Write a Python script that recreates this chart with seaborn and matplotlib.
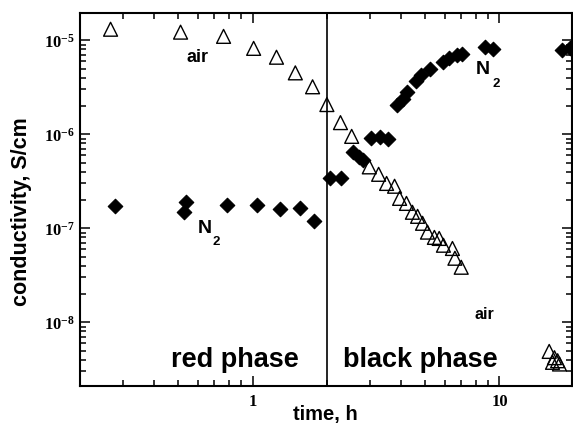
import numpy as np
import pandas as pd
import matplotlib
matplotlib.use("Agg")
import matplotlib.pyplot as plt
import seaborn as sns
from matplotlib.ticker import LogLocator, LogFormatterSciNotation, NullFormatter, FuncFormatter

# ---- data ----
air_time = [0.266, 0.511, 0.763, 1.01, 1.25, 1.49, 1.75, 2.0, 2.27, 2.52, 2.97, 3.24,
            3.49, 3.76, 3.94, 4.2, 4.44, 4.66, 4.88, 5.11, 5.45, 5.7, 5.93, 6.45, 6.6, 7.0,
            15.9, 16.7, 17.2, 16.4, 17.5]
air_cond = [1.31e-5, 1.22e-5, 1.10e-5, 8.2e-6, 6.6e-6, 4.5e-6, 3.2e-6, 2.07e-6, 1.33e-6,
            9.5e-7, 4.5e-7, 3.75e-7, 3.0e-7, 2.8e-7, 2.08e-7, 1.84e-7, 1.48e-7, 1.34e-7,
            1.13e-7, 9.1e-8, 8.0e-8, 7.8e-8, 6.6e-8, 6.1e-8, 4.8e-8, 3.85e-8,
            4.9e-9, 4.2e-9, 3.9e-9, 3.75e-9, 3.6e-9]

n2_time = [0.276, 0.540, 0.530, 0.785, 1.04, 1.29, 1.55, 1.78,
           2.05, 2.29, 2.54, 2.69, 2.79, 3.03, 3.27, 3.52, 3.83, 4.05, 4.24,
           4.61, 4.83, 5.21, 5.88, 6.27, 6.70, 7.08, 8.7, 9.4, 18.0, 19.3]
n2_cond = [1.71e-7, 1.89e-7, 1.48e-7, 1.76e-7, 1.76e-7, 1.59e-7, 1.63e-7, 1.19e-7,
           3.4e-7, 3.4e-7, 6.4e-7, 5.8e-7, 5.3e-7, 9.1e-7, 9.3e-7, 8.8e-7, 2.05e-6, 2.4e-6,
           2.8e-6, 3.7e-6, 4.3e-6, 5.0e-6, 5.8e-6, 6.4e-6, 6.9e-6, 7.2e-6, 8.4e-6, 8.0e-6,
           7.8e-6, 8.2e-6]

phase_boundary = 2.0

sns.set_style("ticks")
plt.rcParams["font.family"] = ["Liberation Sans", "DejaVu Sans"]
plt.rcParams["mathtext.default"] = "regular"
plt.rcParams["text.color"] = "black"
plt.rcParams["axes.labelcolor"] = "black"
plt.rcParams["xtick.color"] = "black"
plt.rcParams["ytick.color"] = "black"

fig = plt.figure(figsize=(5.73, 4.26), dpi=100)
ax = fig.add_axes([0.1396, 0.0939, 0.858, 0.8756])

air_df = pd.DataFrame({"time": air_time, "cond": air_cond})
n2_df = pd.DataFrame({"time": n2_time, "cond": n2_cond})

sns.scatterplot(data=n2_df, x="time", y="cond", marker="D", s=55, color="black",
                edgecolor="black", linewidth=0.8, ax=ax, zorder=3)
sns.scatterplot(data=air_df, x="time", y="cond", marker="^", s=100, facecolor="none",
                edgecolor="black", linewidth=1.0, ax=ax, zorder=4)
for coll in ax.collections[-1:]:
    coll.set_facecolor("none")
    coll.set_edgecolor("black")

ax.axvline(phase_boundary, color="black", lw=1.2, zorder=2)

ax.set_xscale("log")
ax.set_yscale("log")
ax.set_xlim(0.2, 19.6)
ax.set_ylim(2.1e-9, 1.95e-5)

ax.xaxis.set_major_locator(LogLocator(base=10, numticks=10))
ax.yaxis.set_major_locator(LogLocator(base=10, numticks=10))
ax.xaxis.set_minor_locator(LogLocator(base=10, subs=np.arange(2, 10), numticks=20))
ax.yaxis.set_minor_locator(LogLocator(base=10, subs=np.arange(2, 10), numticks=20))
ax.xaxis.set_major_formatter(FuncFormatter(lambda v, p: f"{v:g}"))
ax.yaxis.set_major_formatter(LogFormatterSciNotation())
ax.xaxis.set_minor_formatter(NullFormatter())
ax.yaxis.set_minor_formatter(NullFormatter())

ax.tick_params(which="both", direction="in", top=True, right=True, color="black",
               labelcolor="black", width=1.1)
ax.tick_params(which="major", length=7)
ax.tick_params(which="minor", length=4)
for lab in ax.get_xticklabels() + ax.get_yticklabels():
    lab.set_fontfamily("Liberation Serif")
    lab.set_fontsize(12)
    lab.set_fontweight("bold")
ax.tick_params(axis="x", pad=6)
ax.tick_params(axis="y", pad=4)

for sp in ax.spines.values():
    sp.set_color("black")
    sp.set_linewidth(1.5)

ax.set_xlabel("time, h", fontsize=14.5, fontweight="bold", color="black")
ax.xaxis.set_label_coords(0.499, -0.052)
ax.set_ylabel("conductivity, S/cm", fontsize=15.5, fontweight="bold", color="black")
ax.yaxis.set_label_coords(-0.097, 0.468)

ax.text(0.60, 6.6e-6, "air", fontsize=13, fontweight="bold", ha="center", va="center")
ax.text(8.7, 1.2e-8, "air", fontsize=11.5, fontweight="bold", ha="center", va="center")
ax.text(0.64, 1.0e-7, "N", fontsize=14, fontweight="bold", ha="center", va="center")
ax.text(0.715, 7.1e-8, "2", fontsize=9.5, fontweight="bold", ha="center", va="center")
ax.text(8.53, 4.85e-6, "N", fontsize=14, fontweight="bold", ha="center", va="center")
ax.text(9.68, 3.45e-6, "2", fontsize=9.5, fontweight="bold", ha="center", va="center")
ax.text(0.845, 4.0e-9, "red phase", fontsize=19.5, fontweight="bold", ha="center", va="center")
ax.text(4.77, 4.0e-9, "black phase", fontsize=19.5, fontweight="bold", ha="center", va="center")

fig.savefig("out.png", dpi=100)
